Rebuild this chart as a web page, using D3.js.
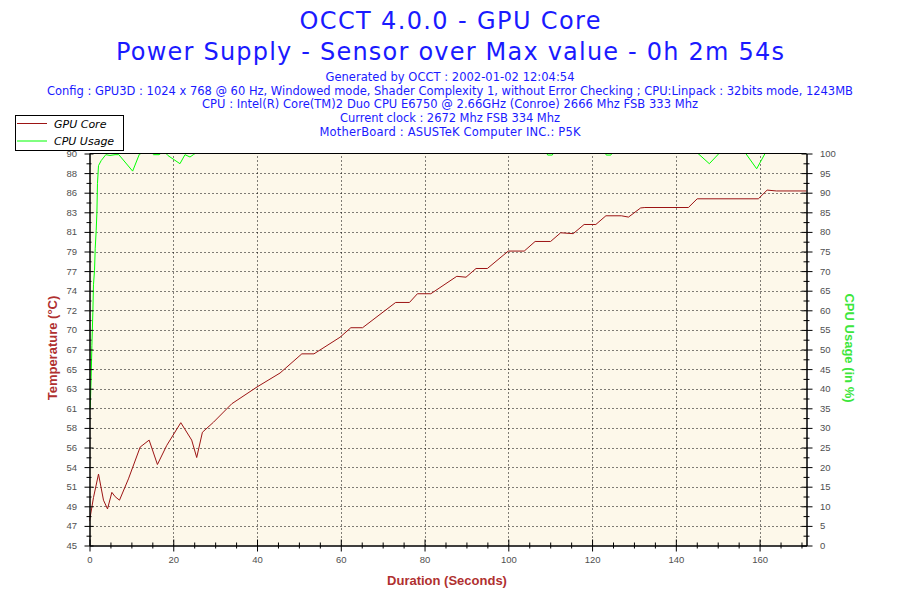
<!DOCTYPE html>
<html>
<head>
<meta charset="utf-8">
<script src="https://cdn.jsdelivr.net/npm/d3@7"></script>
<style>
  body { margin: 0; background: #fff; }
  svg { display: block; }
</style>
</head>
<body>
<script>
// GPU Core temperature (seconds, degC)
const tempTime = [0, 0.95, 2.15, 3.34, 4.3, 5.34, 6.13, 7.16, 9.3, 12.1, 14.24, 16.22, 18.46, 21.8, 24.4, 25.6, 26.96, 29.6, 33.97,
  40, 45.5, 50.7, 53.6, 59.8, 62.4, 65.2, 73.1, 76.4, 78.3, 81.5, 87.7, 89.9, 92.3, 95, 100, 103.8,
  106.4, 110.1, 112.5, 115.5, 118.1, 120.9, 123.3, 127, 128.7, 131.6, 132.6, 143, 145.1, 159.7, 161.8, 164, 171.2];
const tempValues = [47.8, 50.5, 53.2, 50.2, 49.2, 51.1, 50.6, 50.2, 52.65, 56.3, 57.1, 54.3, 56.5, 59.1, 57.1, 55.1, 58.0, 59.15, 61.27,
  63.2, 64.8, 67.0, 67.0, 68.9, 70.0, 70.0, 72.9, 72.9, 73.9, 73.9, 75.9, 75.8, 76.8, 76.8, 78.8, 78.8,
  79.9, 79.9, 80.9, 80.8, 81.85, 81.85, 82.85, 82.85, 82.7, 83.75, 83.8, 83.8, 84.8, 84.8, 85.8, 85.7, 85.7];

// CPU usage (seconds, %)
const cpuTime = [0, 0.17, 0.4, 0.57, 0.8, 0.95, 1.2, 1.36, 1.6, 1.77, 1.9, 2.15, 2.8, 3.9, 4.9, 6.1, 7, 10.3, 11.9, 12.3,
  15.0, 15.3, 16.6, 17, 18.3, 18.7, 21.6, 22.8, 24, 24.8, 25.2, 109.2, 109.4, 110.5, 110.7, 123.2, 123.4, 124.5, 124.7,
  145.3, 148, 150.3, 156.7, 159.3, 161.3, 171.2];
const cpuValues = [35, 35, 43, 51, 59.5, 66.5, 70.2, 75.7, 80.4, 85, 92.3, 96.9, 98.2, 99.7, 99.5, 99.7, 99.7, 95.5, 99.8, 100,
  100, 99.7, 99.7, 100, 100, 99.5, 97.4, 99.7, 99.1, 99.7, 100, 100, 99.6, 99.6, 100, 100, 99.6, 99.6, 100,
  100, 97.4, 100, 100, 96.1, 100, 100];

const tempTickLabels = [45, 47, 49, 51, 54, 56, 58, 61, 63, 65, 67, 70, 72, 74, 77, 79, 81, 83, 86, 88, 90];
const cpuTickLabels = [0, 5, 10, 15, 20, 25, 30, 35, 40, 45, 50, 55, 60, 65, 70, 75, 80, 85, 90, 95, 100];
const durationTicks = [0, 20, 40, 60, 80, 100, 120, 140, 160];

const titleLines = ["OCCT 4.0.0 - GPU Core", "Power Supply - Sensor over Max value - 0h 2m 54s"];
const infoLines = [
  "Generated by OCCT : 2002-01-02 12:04:54",
  "Config : GPU3D : 1024 x 768 @ 60 Hz, Windowed mode, Shader Complexity 1, without Error Checking ; CPU:Linpack : 32bits mode, 1243MB",
  "CPU : Intel(R) Core(TM)2 Duo CPU E6750 @ 2.66GHz (Conroe) 2666 Mhz FSB 333 Mhz",
  "Current clock : 2672 Mhz FSB 334 Mhz",
  "MotherBoard : ASUSTeK Computer INC.: P5K"
];
const seriesNames = ["GPU Core", "CPU Usage"];

const drawChart = () => {
  const width = 900, height = 600;
  const plot = {left: 89.5, right: 806.5, top: 153.5, bottom: 545.5};
  const red = "#9c1414", green = "#00ff00";
  const tickFont = "'Liberation Sans', Arial, sans-serif";

  const svg = d3.select("body").append("svg")
    .attr("width", width)
    .attr("height", height);

  svg.append("rect").attr("width", width).attr("height", height).attr("fill", "#fff");

  const x = d3.scaleLinear().domain([0, 171.2]).range([plot.left, plot.right]);
  const yTemp = d3.scaleLinear().domain([45, 90]).range([plot.bottom, plot.top]);
  const yCpu = d3.scaleLinear().domain([0, 100]).range([plot.bottom, plot.top]);

  // left ticks are evenly spaced, labels are rounded values
  const tempStep = (90 - 45) / (tempTickLabels.length - 1);
  const tempMajor = tempTickLabels.map((d, i) => 45 + i * tempStep);
  const tempMinor = tempMajor.slice(1).map(d => d - tempStep / 2);
  const cpuMinor = cpuTickLabels.slice(1).map(d => d - 2.5);
  const durationMinor = d3.range(5, 171, 5).filter(d => d % 20 !== 0);

  // plot background
  svg.append("rect")
    .attr("x", plot.left).attr("y", plot.top)
    .attr("width", plot.right - plot.left)
    .attr("height", plot.bottom - plot.top)
    .attr("fill", "#fdf8ea");

  // dotted grid
  const grid = svg.append("g")
    .attr("stroke", "#000")
    .attr("stroke-dasharray", "1,3");

  grid.selectAll(".hgrid")
    .data(tempMajor.slice(1, -1))
    .enter().append("line")
    .attr("x1", plot.left + 3).attr("x2", plot.right)
    .attr("y1", d => Math.round(yTemp(d)) + 0.5)
    .attr("y2", d => Math.round(yTemp(d)) + 0.5);

  grid.selectAll(".vgrid")
    .data(durationTicks.slice(1))
    .enter().append("line")
    .attr("y1", plot.top + 3).attr("y2", plot.bottom)
    .attr("x1", d => Math.round(x(d)) + 0.5)
    .attr("x2", d => Math.round(x(d)) + 0.5);

  // series
  svg.append("clipPath").attr("id", "plot-clip")
    .append("rect")
    .attr("x", plot.left).attr("y", plot.top)
    .attr("width", plot.right - plot.left)
    .attr("height", plot.bottom - plot.top);

  const lines = svg.append("g").attr("clip-path", "url(#plot-clip)").attr("fill", "none");

  lines.append("path")
    .datum(cpuTime.map((t, i) => [t, cpuValues[i]]))
    .attr("stroke", green)
    .attr("stroke-width", 1)
    .attr("d", d3.line().x(d => x(d[0])).y(d => yCpu(d[1])));

  lines.append("path")
    .datum(tempTime.map((t, i) => [t, tempValues[i]]))
    .attr("stroke", red)
    .attr("stroke-width", 1)
    .attr("d", d3.line().x(d => x(d[0])).y(d => yTemp(d[1])));

  // axes
  const styleAxis = (g) => {
    g.attr("font-family", tickFont).attr("font-size", 9.5).attr("color", "#000");
    g.selectAll(".tick text").attr("fill", "#505050");
  };

  const leftAxis = svg.append("g")
    .attr("transform", `translate(${plot.left},0)`)
    .call(d3.axisLeft(yTemp).tickValues(tempMajor).tickSize(5).tickSizeOuter(0).tickPadding(7.5)
      .tickFormat((d, i) => tempTickLabels[i]))
    .call(styleAxis);
  leftAxis.selectAll(".tick line").attr("x1", 4);

  svg.append("g")
    .attr("transform", `translate(${plot.left},0)`)
    .call(d3.axisLeft(yTemp).tickValues(tempMinor).tickSize(3).tickSizeOuter(0).tickFormat(""))
    .call(styleAxis)
    .selectAll(".tick line").attr("x1", 2);

  const rightAxis = svg.append("g")
    .attr("transform", `translate(${plot.right},0)`)
    .call(d3.axisRight(yCpu).tickValues(cpuTickLabels).tickSize(6).tickSizeOuter(0).tickPadding(7.5))
    .call(styleAxis);
  rightAxis.selectAll(".tick line").attr("x1", -5);

  svg.append("g")
    .attr("transform", `translate(${plot.right},0)`)
    .call(d3.axisRight(yCpu).tickValues(cpuMinor).tickSize(3).tickSizeOuter(0).tickFormat(""))
    .call(styleAxis)
    .selectAll(".tick line").attr("x1", -3);

  const bottomAxis = svg.append("g")
    .attr("transform", `translate(0,${plot.bottom})`)
    .call(d3.axisBottom(x).tickValues(durationTicks).tickSize(6).tickSizeOuter(0).tickPadding(5))
    .call(styleAxis);
  bottomAxis.selectAll(".tick line").attr("y1", -6);

  svg.append("g")
    .attr("transform", `translate(0,${plot.bottom})`)
    .call(d3.axisBottom(x).tickValues(durationMinor).tickSize(3).tickSizeOuter(0).tickFormat(""))
    .call(styleAxis)
    .selectAll(".tick line").attr("y1", -3);

  // top border
  svg.append("line")
    .attr("x1", plot.left).attr("x2", plot.right)
    .attr("y1", plot.top).attr("y2", plot.top)
    .attr("stroke", "#000");

  // axis titles
  const axisTitle = svg.append("g")
    .attr("font-family", tickFont)
    .attr("font-size", 13)
    .attr("font-weight", "bold")
    .attr("text-anchor", "middle");

  axisTitle.append("text")
    .attr("x", 447).attr("y", 585)
    .attr("fill", "#b03030")
    .text("Duration (Seconds)");

  axisTitle.append("text")
    .attr("transform", "translate(57,348) rotate(-90)")
    .attr("fill", "#b03030")
    .text("Temperature (°C)");

  axisTitle.append("text")
    .attr("transform", "translate(845,348) rotate(90)")
    .attr("fill", "#3ce63c")
    .text("CPU Usage (in %)");

  // legend
  const legend = svg.append("g");
  legend.append("rect")
    .attr("x", 15.5).attr("y", 115.5)
    .attr("width", 108).attr("height", 35)
    .attr("fill", "#fff").attr("stroke", "#000");

  const legendRows = legend.selectAll(".row")
    .data(seriesNames)
    .enter().append("g")
    .attr("transform", (d, i) => `translate(0,${123.5 + i * 17.5})`);

  legendRows.append("line")
    .attr("x1", 17).attr("x2", 47)
    .attr("stroke", (d, i) => i === 0 ? red : green);

  legendRows.append("text")
    .attr("x", 54).attr("y", 4)
    .attr("font-family", "'DejaVu Sans', Verdana, sans-serif")
    .attr("font-size", 11)
    .attr("font-style", "italic")
    .attr("fill", "#000")
    .text(d => d);

  // titles
  const titles = svg.append("g")
    .attr("font-family", "'DejaVu Sans', Verdana, sans-serif")
    .attr("fill", "#1a1aff")
    .attr("text-anchor", "middle");

  const titleWidths = [301, 668];
  titles.selectAll(".title")
    .data(titleLines)
    .enter().append("text")
    .attr("x", 450)
    .attr("y", (d, i) => 29 + i * 31)
    .attr("font-size", 24)
    .attr("textLength", (d, i) => titleWidths[i])
    .attr("lengthAdjust", "spacing")
    .text(d => d);

  const infoWidths = [249, 806, 496, 220, 261];
  titles.selectAll(".info")
    .data(infoLines)
    .enter().append("text")
    .attr("x", 450)
    .attr("y", (d, i) => 80.7 + i * 13.85)
    .attr("font-size", 11.5)
    .attr("textLength", (d, i) => infoWidths[i])
    .attr("lengthAdjust", "spacing")
    .text(d => d);
};

drawChart();
</script>
</body>
</html>
